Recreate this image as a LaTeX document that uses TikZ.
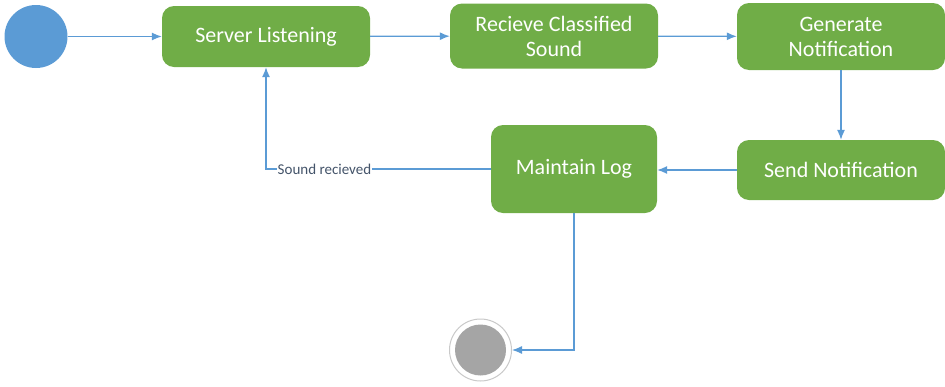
\documentclass[tikz,border=0pt]{standalone}
\usepackage{fontspec}
\setmainfont{Carlito}
\usetikzlibrary{arrows.meta, positioning}

\definecolor{stategreen}{RGB}{112,173,71}
\definecolor{flowblue}{RGB}{91,155,213}
\definecolor{endgray}{RGB}{165,165,165}
\definecolor{labelcol}{RGB}{68,84,106}

\begin{document}
\begin{tikzpicture}[>={Latex[length=10pt,width=8pt]}, x=1pt, y=-1pt,
  state/.style={draw=none, fill=stategreen, rounded corners=12pt, text=white,
    align=center, font=\fontsize{22}{25}\selectfont, inner sep=0pt},
  flow/.style={->, draw=flowblue, line width=1.2pt}]

%\draw[step=50, gray!20] (0,0) grid (945,386);
\useasboundingbox (0,0) rectangle (945,386);

% start and end
\node[circle, fill=flowblue, minimum size=63pt, inner sep=0pt] (start) at (36,36.5) {};
\node[circle, draw=endgray!60, line width=1pt, fill=white, minimum size=62pt, inner sep=0pt] (stop) at (480.5,350) {};
\node[circle, fill=endgray, minimum size=51pt, inner sep=0pt] at (stop) {};

% states
\node[state, minimum width=208pt, minimum height=61pt] (listen) at (266,36.5) {\raisebox{-2pt}{Server Listening}};
\node[state, minimum width=208pt, minimum height=65pt] (receive) at (554,36) {Recieve Classified\\Sound};
\node[state, minimum width=208pt, minimum height=67pt] (generate) at (841,36.5) {Generate\\Notification};
\node[state, minimum width=208pt, minimum height=60pt] (send) at (841,170) {\raisebox{-2pt}{Send Notification}};
\node[state, minimum width=166pt, minimum height=88pt] (log) at (574,169) {\raisebox{-2pt}{Maintain Log}};

\draw[flow] (start) -- (listen);
\draw[flow] (listen) -- (receive);
\draw[flow] (receive) -- (generate);
\draw[flow] (generate) -- (send);
\draw[flow] (send.west) -- (log.east |- send.west);
\draw[flow] (log.west) -| node[pos=0.37, fill=white, inner sep=1pt, text=labelcol,
  font=\fontsize{15}{17}\selectfont] {Sound recieved} (listen.south);
\draw[flow] (log.south) |- (stop.east);

\end{tikzpicture}
\end{document}
